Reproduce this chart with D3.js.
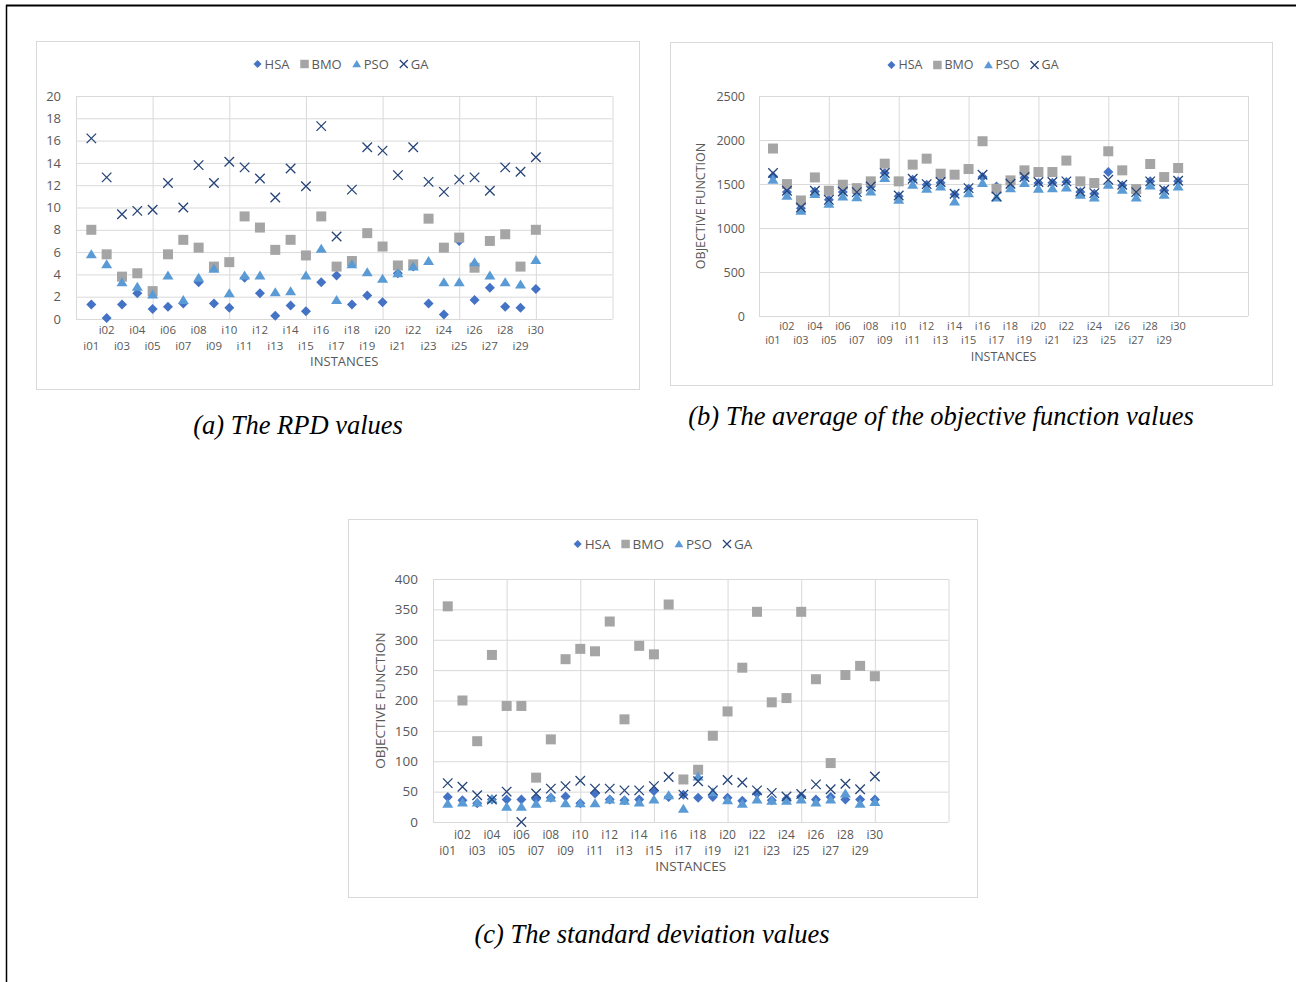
<!DOCTYPE html>
<html>
  <head>
    <meta charset="utf-8" />
    <title>HSA / BMO / PSO / GA</title>
    <script src="https://d3js.org/d3.v7.min.js"></script>
    <style>
      body {
        margin: 0;
        background: #fff;
      }
      text {
        font-family: "Open Sans", sans-serif;
        fill: #595959;
      }
      .caption {
        font-family: "Liberation Serif", "Times New Roman", serif;
        font-style: italic;
        font-size: 26.5px;
        fill: #000;
      }
    </style>
  </head>
  <body>
    <svg id="fig"></svg>

    <script>

      var instances = ["i01", "i02", "i03", "i04", "i05", "i06", "i07", "i08", "i09", "i10",
                       "i11", "i12", "i13", "i14", "i15", "i16", "i17", "i18", "i19", "i20",
                       "i21", "i22", "i23", "i24", "i25", "i26", "i27", "i28", "i29", "i30"];
      var seriesNames = ["HSA", "BMO", "PSO", "GA"];

      // (a) RPD values
      var rpdHSA = [1.3, 0.1, 1.3, 2.3, 0.9, 1.1, 1.4, 3.3, 1.4, 1.0, 3.7, 2.3, 0.3, 1.2, 0.7,
                    3.3, 3.9, 1.3, 2.1, 1.5, 4.1, 4.7, 1.4, 0.4, 7.0, 1.7, 2.8, 1.1, 1.0, 2.7];
      var rpdBMO = [8.0, 5.8, 3.8, 4.1, 2.5, 5.8, 7.1, 6.4, 4.7, 5.1, 9.2, 8.2, 6.2, 7.1, 5.7,
                    9.2, 4.7, 5.2, 7.7, 6.5, 4.8, 4.9, 9.0, 6.4, 7.3, 4.6, 7.0, 7.6, 4.7, 8.0];
      var rpdPSO = [5.8, 4.9, 3.3, 2.9, 2.2, 3.9, 1.7, 3.7, 4.5, 2.3, 3.9, 3.9, 2.4, 2.5, 3.9,
                    6.3, 1.7, 4.9, 4.2, 3.6, 4.1, 4.7, 5.2, 3.3, 3.3, 5.1, 3.9, 3.3, 3.1, 5.3];
      var rpdGA = [16.2, 12.7, 9.4, 9.7, 9.8, 12.2, 10.0, 13.8, 12.2, 14.1, 13.6, 12.6, 10.9, 13.5, 11.9,
                   17.3, 7.4, 11.6, 15.4, 15.1, 12.9, 15.4, 12.3, 11.4, 12.5, 12.7, 11.5, 13.6, 13.2, 14.5];
      var rpdTicks = [0, 2, 4, 6, 8, 10, 12, 14, 16, 18, 20];

      // (b) average objective function
      var avgHSA = [1587, 1408, 1225, 1415, 1320, 1408, 1400, 1472, 1625, 1362, 1549, 1492, 1515, 1380, 1446,
                    1580, 1472, 1503, 1570, 1511, 1515, 1522, 1408, 1389, 1636, 1484, 1400, 1530, 1425, 1530];
      var avgBMO = [1903, 1499, 1313, 1575, 1423, 1492, 1453, 1530, 1731, 1530, 1720, 1788, 1617, 1606, 1670,
                    1986, 1446, 1541, 1655, 1636, 1636, 1766, 1530, 1511, 1872, 1655, 1442, 1727, 1579, 1682];
      var avgPSO = [1549, 1366, 1195, 1385, 1275, 1358, 1350, 1415, 1568, 1320, 1492, 1446, 1472, 1301, 1396,
                    1511, 1347, 1453, 1511, 1446, 1453, 1461, 1377, 1347, 1492, 1434, 1347, 1484, 1377, 1472];
      var avgGA = [1625, 1423, 1233, 1423, 1320, 1415, 1408, 1472, 1625, 1370, 1560, 1499, 1522, 1389, 1453,
                   1606, 1358, 1503, 1579, 1522, 1522, 1530, 1415, 1396, 1549, 1492, 1408, 1530, 1434, 1537];
      var avgTicks = [0, 500, 1000, 1500, 2000, 2500];

      // (c) standard deviation
      var sdHSA = [41, 36, 31, 37, 37, 37, 38, 40, 42, 31, 47, 37, 36, 37, 51,
                   41, 45, 40, 41, 40, 35, 47, 36, 38, 42, 37, 41, 37, 37, 37];
      var sdBMO = [355, 200, 133, 275, 191, 191, 73, 136, 268, 285, 281, 330, 169, 290, 276,
                   358, 70, 86, 142, 182, 254, 346, 197, 204, 346, 235, 97, 242, 257, 240];
      var sdPSO = [30, 32, 32, 38, 25, 25, 30, 40, 31, 31, 31, 37, 35, 32, 37,
                   44, 22, 75, 49, 36, 30, 37, 35, 35, 37, 32, 37, 47, 30, 33];
      var sdGA = [64, 58, 44, 37, 50, 0, 47, 55, 59, 68, 55, 55, 52, 52, 59,
                  74, 45, 67, 52, 69, 65, 52, 48, 42, 46, 62, 54, 63, 54, 75];
      var sdTicks = [0, 50, 100, 150, 200, 250, 300, 350, 400];

      var gridX = [0, 5, 10, 15, 20, 25, 30, 35];

      var colors = ["#4472C4", "#A5A5A5", "#5B9BD5", "#264478"];
      var gridColor = "#D9D9D9";

      // marker shapes, size = full width in px
      var shapes = [
        { draw: function(ctx, s) { var h = s / 2; ctx.moveTo(0, -h); ctx.lineTo(h, 0); ctx.lineTo(0, h); ctx.lineTo(-h, 0); ctx.closePath(); } },
        { draw: function(ctx, s) { var h = s / 2; ctx.rect(-h, -h, s, s); } },
        { draw: function(ctx, s) { var h = s / 2; ctx.moveTo(0, -h); ctx.lineTo(h * 1.1, h * 0.8); ctx.lineTo(-h * 1.1, h * 0.8); ctx.closePath(); } },
        { draw: function(ctx, s) { var h = s / 2; ctx.moveTo(-h, -h); ctx.lineTo(h, h); ctx.moveTo(-h, h); ctx.lineTo(h, -h); } }
      ];

      function styleMarker(sel, k) {
        if (k === 3) {
          sel.attr("fill", "none").attr("stroke", colors[k]).attr("stroke-width", 1.3);
        } else {
          sel.attr("fill", colors[k]);
        }
      }

      var svg = d3.select("#fig")
        .attr("width", 1296)
        .attr("height", 982);

      // page border (top and left)
      svg.append("line")
        .attr("x1", 6).attr("x2", 1296).attr("y1", 5.5).attr("y2", 5.5)
        .attr("stroke", "#000").attr("stroke-width", 2);
      svg.append("line")
        .attr("x1", 6.5).attr("x2", 6.5).attr("y1", 5).attr("y2", 982)
        .attr("stroke", "#000").attr("stroke-width", 1.5);

      var panels = [
        {
          frame: [36, 41, 639, 389], plot: [76, 96, 612.5, 319], max: 20, ticks: rpdTicks,
          series: [rpdHSA, rpdBMO, rpdPSO, rpdGA], legendX: 341, legendY: 64,
          yTitle: null, rowY: [330, 346], titleY: 361, font: 13, xFont: 11.5, pad: 15,
          caption: "(a) The RPD values", capX: 298, capY: 434
        },
        {
          frame: [670, 42, 1272, 385], plot: [759, 96, 1248, 316], max: 2500, ticks: avgTicks,
          series: [avgHSA, avgBMO, avgPSO, avgGA], legendX: 973, legendY: 65,
          yTitle: "OBJECTIVE FUNCTION", yTitleX: 701, rowY: [326, 340], titleY: 357, font: 12.5, xFont: 11, pad: 14,
          caption: "(b) The average of the objective function values", capX: 941, capY: 425
        },
        {
          frame: [348, 519, 977, 897], plot: [433, 579, 948.5, 822], max: 400, ticks: sdTicks,
          series: [sdHSA, sdBMO, sdPSO, sdGA], legendX: 663, legendY: 544,
          yTitle: "OBJECTIVE FUNCTION", yTitleX: 380, rowY: [835, 851], titleY: 866, font: 13.5, xFont: 12, pad: 15,
          caption: "(c) The standard deviation values", capX: 652, capY: 943
        }
      ];

      panels.forEach(drawPanel);

      function drawPanel(p) {
        var g = svg.append("g");
        var left = p.plot[0], top = p.plot[1], right = p.plot[2], bottom = p.plot[3];

        g.append("rect")
          .attr("x", p.frame[0] + 0.5).attr("y", p.frame[1] + 0.5)
          .attr("width", p.frame[2] - p.frame[0]).attr("height", p.frame[3] - p.frame[1])
          .attr("fill", "#fff").attr("stroke", gridColor);

        var x = d3.scaleLinear().domain([0, 35]).range([left, right]);
        var y = d3.scaleLinear().domain([0, p.max]).range([bottom, top]);

        // horizontal grid + y labels
        var yAxis = d3.axisLeft(y)
          .tickValues(p.ticks)
          .tickSize(-(right - left))
          .tickPadding(p.pad)
          .tickFormat(d3.format("d"));
        var ya = g.append("g")
          .attr("transform", "translate(" + left + ",0)")
          .call(yAxis);
        ya.select(".domain").remove();
        ya.selectAll("line").attr("stroke", gridColor);
        ya.selectAll("text")
          .attr("fill", "#595959")
          .attr("font-family", "Open Sans, sans-serif")
          .attr("font-size", p.font);

        // vertical grid
        var xAxis = d3.axisBottom(x)
          .tickValues(gridX)
          .tickSize(-(bottom - top))
          .tickFormat("");
        var xa = g.append("g")
          .attr("transform", "translate(0," + bottom + ")")
          .call(xAxis);
        xa.select(".domain").remove();
        xa.selectAll("line").attr("stroke", gridColor);

        // category labels in two staggered rows
        g.selectAll(".xl")
          .data(instances)
          .enter().append("text")
          .attr("class", "xl")
          .attr("x", function(d, i) { return x(i + 1); })
          .attr("y", function(d, i) { return (i % 2 === 1) ? p.rowY[0] : p.rowY[1]; })
          .attr("dy", "0.35em")
          .attr("text-anchor", "middle")
          .attr("font-size", p.xFont)
          .text(function(d) { return d; });

        g.append("text")
          .attr("x", (left + right) / 2)
          .attr("y", p.titleY)
          .attr("dy", "0.35em")
          .attr("text-anchor", "middle")
          .attr("font-size", p.font)
          .text("INSTANCES");

        if (p.yTitle) {
          g.append("text")
            .attr("transform", "translate(" + p.yTitleX + "," + ((top + bottom) / 2) + ") rotate(-90)")
            .attr("dy", "0.35em")
            .attr("text-anchor", "middle")
            .attr("font-size", p.font)
            .text(p.yTitle);
        }

        // markers
        p.series.forEach(function(values, k) {
          var sym = d3.symbol().type(shapes[k]).size(k === 3 ? 9.5 : 10);
          g.append("g").selectAll("path")
            .data(values)
            .enter().append("path")
            .attr("d", sym)
            .attr("transform", function(d, i) {
              return "translate(" + x(i + 1) + "," + y(d) + ")";
            })
            .call(styleMarker, k);
        });

        // legend
        var lg = g.append("g");
        var cursor = 0;
        seriesNames.forEach(function(name, k) {
          var sym = d3.symbol().type(shapes[k]).size(k === 1 ? 8.5 : 8);
          lg.append("path")
            .attr("d", sym)
            .attr("transform", "translate(" + (cursor + 4) + ",0)")
            .call(styleMarker, k);
          var t = lg.append("text")
            .attr("x", cursor + 11)
            .attr("dy", "0.35em")
            .attr("font-size", p.font)
            .text(name);
          cursor += 11 + t.node().getComputedTextLength() + 11;
        });
        cursor -= 11;
        lg.attr("transform", "translate(" + (p.legendX - cursor / 2) + "," + p.legendY + ")");

        svg.append("text")
          .attr("class", "caption")
          .attr("x", p.capX)
          .attr("y", p.capY)
          .attr("text-anchor", "middle")
          .text(p.caption);
      }

    </script>
  </body>
</html>
